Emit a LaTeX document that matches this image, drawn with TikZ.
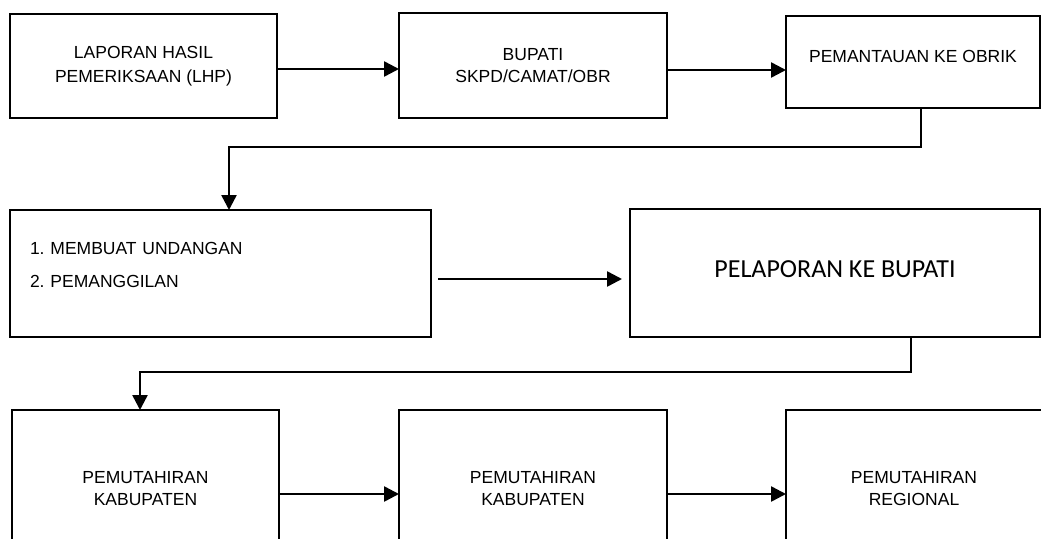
\documentclass[tikz,border=0pt]{standalone}
\usepackage{fontspec}
\setmainfont{Liberation Sans}
\newfontfamily\calibrifont{Carlito}
\usetikzlibrary{arrows.meta,positioning}
\frenchspacing

\begin{document}
\begin{tikzpicture}[x=1pt,y=-1pt,
  box/.style={draw, line width=2pt, inner sep=0pt, outer sep=0pt,
    align=center, font=\fontsize{17.5}{22}\selectfont},
  ->,>={Triangle[length=15pt,width=15pt]},line width=2.5pt
]
\clip (0,0) rectangle (1041,538);
\node[box, minimum width=267pt, minimum height=104pt] (lhp) at (143.5,66) {LAPORAN HASIL\\[2pt]PEMERIKSAAN (LHP)};
\node[box, minimum width=268pt, minimum height=105pt] (bupati) at (533,65.5) {BUPATI\\SKPD/CAMAT/OBR};
\node[box, line width=1.5pt, minimum width=254pt, minimum height=92pt,
  text height=12pt, text depth=12pt] (pantau) at (913,62) {PEMANTAUAN KE OBRIK};
\node[box, minimum width=421pt, minimum height=127pt, text width=381pt,
  align=left, text depth=50pt] (undang) at (220.5,273.5) {1. MEMBUAT UNDANGAN\\[11pt]2. PEMANGGILAN};
\node[box, minimum width=410pt, minimum height=128pt, text depth=8pt,
  font=\calibrifont\fontsize{26}{30}\selectfont] (lapor) at (835,273) {PELAPORAN KE BUPATI};
\node[box, minimum width=267pt, minimum height=158pt] (kab1) at (145.5,489) {PEMUTAHIRAN\\KABUPATEN};
\node[box, minimum width=268pt, minimum height=158pt] (kab2) at (533,489) {PEMUTAHIRAN\\KABUPATEN};
\node[box, minimum width=256pt, minimum height=158pt] (reg) at (914,489) {PEMUTAHIRAN\\REGIONAL};

\draw ([yshift=-3pt]lhp.east) -- ([yshift=-3pt]lhp.east -| bupati.west);
\draw ([yshift=-4.5pt]bupati.east) -- ([yshift=-4.5pt]bupati.east -| pantau.west);
\draw ([xshift=8pt]pantau.south) -- ++(0,39) -| ([xshift=8.5pt]undang.north);
\draw[shorten <=7pt, shorten >=8pt] ([yshift=-5.5pt]undang.east) -- ([yshift=-5.5pt]undang.east -| lapor.west);
\draw ([xshift=76pt]lapor.south) -- ++(0,35) -| ([xshift=-5.5pt]kab1.north);
\draw ([yshift=-5pt]kab1.east) -- ([yshift=-5pt]kab1.east -| kab2.west);
\draw ([yshift=-5pt]kab2.east) -- ([yshift=-5pt]kab2.east -| reg.west);
\end{tikzpicture}
\end{document}
